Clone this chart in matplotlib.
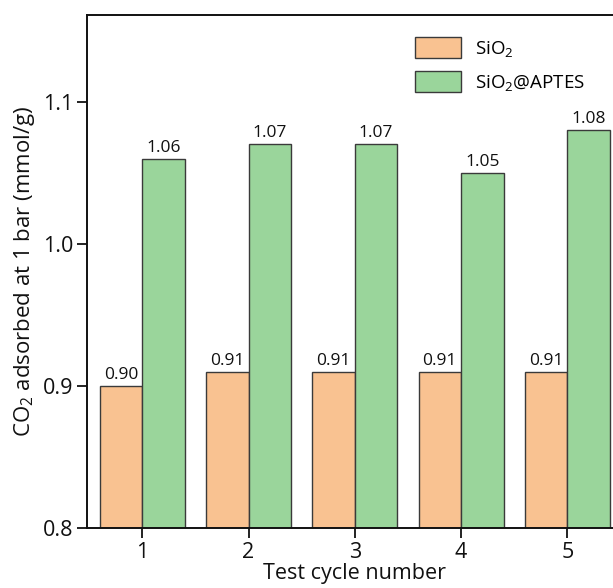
import matplotlib
matplotlib.use("Agg")
import matplotlib.pyplot as plt
import numpy as np

plt.rcParams['font.family'] = ['Open Sans', 'DejaVu Sans']
plt.rcParams['mathtext.default'] = 'regular'

cycles = [1, 2, 3, 4, 5]
sio2 = [0.90, 0.91, 0.91, 0.91, 0.91]
sio2_aptes = [1.06, 1.07, 1.07, 1.05, 1.08]
series_names = ['SiO$_2$', 'SiO$_2$@APTES']
yticks = [0.8, 0.9, 1.0, 1.1]

fig = plt.figure(figsize=(6.13, 5.88), dpi=100)
ax = fig.add_axes([0.142, 0.102, 0.8736, 0.8725])

x = np.array(cycles, dtype=float)
w = 0.4
b1 = ax.bar(x - w / 2, sio2, w, color='#F9C291', edgecolor='#3a3a3a',
            linewidth=1.0, label=series_names[0])
b2 = ax.bar(x + w / 2, sio2_aptes, w, color='#9AD59B', edgecolor='#3a3a3a',
            linewidth=1.0, label=series_names[1])

for bars, vals in ((b1, sio2), (b2, sio2_aptes)):
    for r, v in zip(bars, vals):
        ax.text(r.get_x() + r.get_width() / 2, v + 0.002, f'{v:.2f}',
                ha='center', va='bottom', fontsize=12.5, color='#111111')

ax.set_xlim(0.48, 5.52)
ax.set_ylim(0.8, 1.161)
ax.set_xticks(cycles)
ax.set_yticks(yticks)
ax.set_yticklabels([f'{t:.1f}' for t in yticks])
ax.tick_params(direction='out', length=7, width=1.3, labelsize=15.5,
               colors='#111111', pad=3)

for s in ax.spines.values():
    s.set_linewidth(1.4)
    s.set_color('#111111')

ax.set_xlabel('Test cycle number', fontsize=15.5, labelpad=0, color='#111111')
ax.set_ylabel('CO$_2$ adsorbed at 1 bar (mmol/g)', fontsize=16, labelpad=4, color='#111111')

ax.legend(loc='upper left', bbox_to_anchor=(0.58, 0.99), frameon=False,
          fontsize=13.5, handlelength=2.5, handleheight=1.35, labelspacing=0.65,
          handletextpad=0.75)

fig.savefig('out.png', dpi=100)
